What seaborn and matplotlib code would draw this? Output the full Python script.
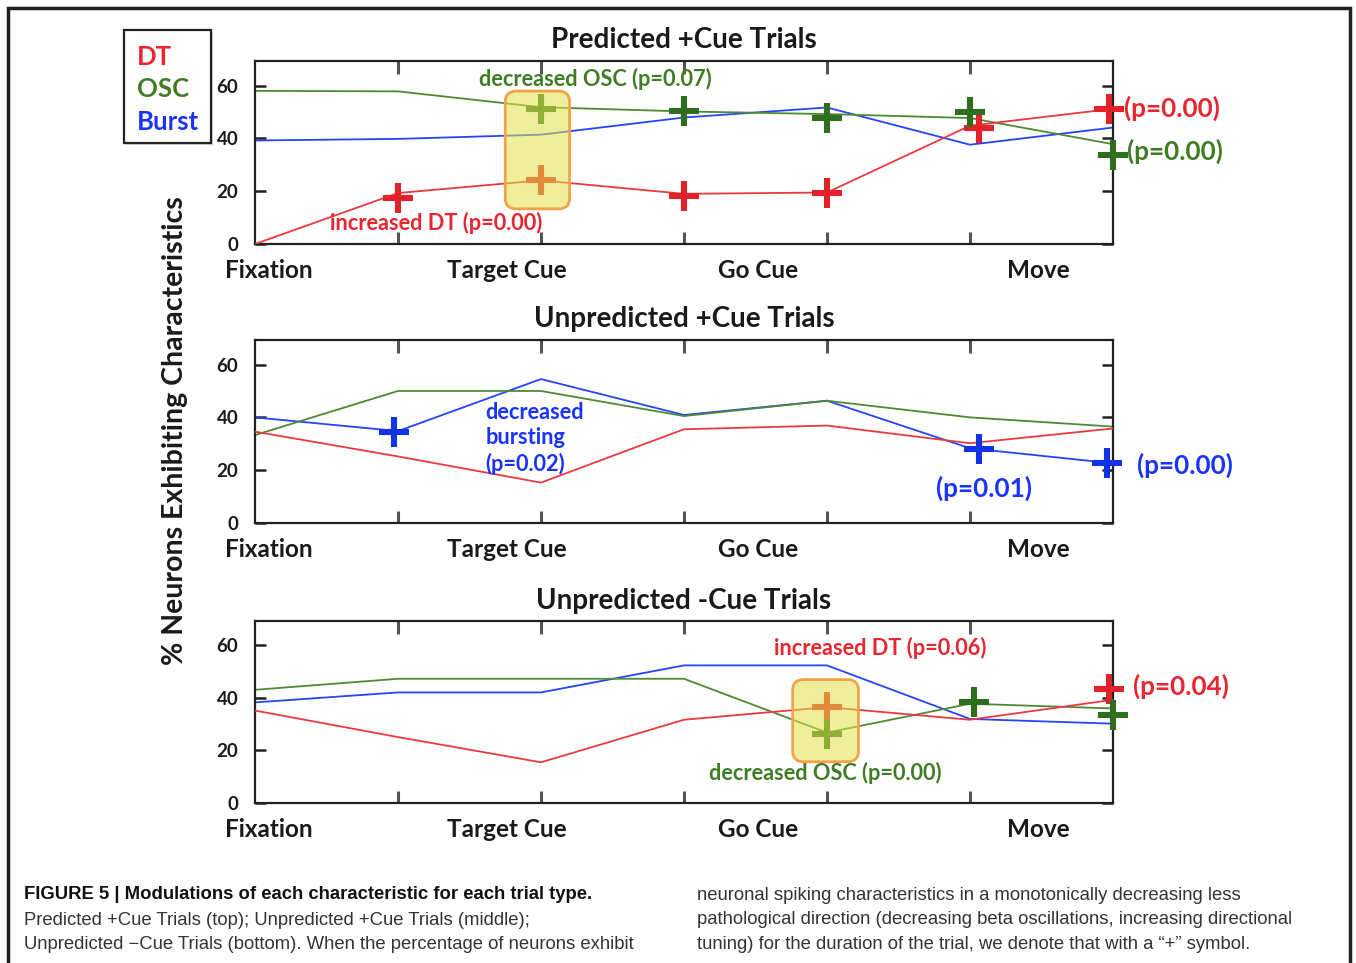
import numpy as np
import pandas as pd
import matplotlib
matplotlib.use("Agg")
import matplotlib.pyplot as plt
from matplotlib.patches import Rectangle, FancyBboxPatch
import seaborn as sns

# ---------------- data ----------------
positions = [0, 1, 2, 3, 4, 5, 6]
phase_labels = ["Fixation", "Target Cue", "Go Cue", "Move"]
phase_label_pos = [0.1, 1.76, 3.52, 5.48]
series_names = ["DT", "OSC", "Burst"]
panel_titles = ["Predicted +Cue Trials", "Unpredicted +Cue Trials", "Unpredicted -Cue Trials"]

# Predicted +Cue
pred_dt = [0.0, 19.3, 24.1, 19.0, 19.5, 44.8, 51.2]
pred_osc = [58.0, 57.8, 51.8, 50.2, 49.2, 47.7, 37.8]
pred_burst = [39.2, 39.8, 41.4, 47.9, 51.7, 37.6, 44.1]
# Unpredicted +Cue
unp_dt = [34.6, 25.2, 15.3, 35.5, 36.9, 30.2, 35.8]
unp_osc = [33.3, 50.0, 50.0, 40.5, 46.3, 40.0, 36.5]
unp_burst = [40.0, 34.8, 54.5, 40.9, 46.3, 28.3, 22.6]
# Unpredicted -Cue
unm_dt = [35.2, 25.1, 15.5, 31.7, 36.5, 31.7, 39.3]
unm_osc = [43.1, 47.3, 47.3, 47.3, 26.8, 37.8, 36.0]
unm_burst = [38.3, 42.1, 42.1, 52.4, 52.4, 32.0, 30.2]

# "+" significance markers (x position, value)
pred_dt_mk_x = [1, 2, 3, 4, 5.06, 5.97]
pred_dt_mk_y = [17.4, 24.3, 18.3, 19.5, 43.9, 51.1]
pred_osc_mk_x = [2, 3, 4, 5.0, 6]
pred_osc_mk_y = [51.0, 50.2, 47.7, 49.8, 33.8]
unp_burst_mk_x = [0.97, 5.06, 5.96]
unp_burst_mk_y = [34.6, 27.9, 22.6]
unm_dt_mk_x = [4, 5.97]
unm_dt_mk_y = [36.5, 43.4]
unm_osc_mk_x = [4, 5.03, 6]
unm_osc_mk_y = [26.4, 38.5, 33.6]

# ---------------- style ----------------
sns.set_theme(style="white")
plt.rcParams["font.family"] = ["Lato", "DejaVu Sans"]

line_colors = {"DT": "#ea3a3f", "OSC": "#4f8a33", "Burst": "#2444ff"}
mk_colors = {"DT": "#e2222a", "OSC": "#2f6e1e", "Burst": "#1232e6"}
txt_colors = {"DT": "#e8262f", "OSC": "#3f7d24", "Burst": "#1a33ff"}

W, H = 1356, 963
fig = plt.figure(figsize=(W / 100, H / 100), dpi=100)

def fx(px):
    return px / W

def fy(py):
    return 1 - py / H

axes_px = [(61, 244), (340, 523), (621, 803)]
ax_left, ax_right = 255, 1113

panels = [
    (pred_dt, pred_osc, pred_burst),
    (unp_dt, unp_osc, unp_burst),
    (unm_dt, unm_osc, unm_burst),
]

axs = []
for i, (top, bot) in enumerate(axes_px):
    ax = fig.add_axes([fx(ax_left), fy(bot), fx(ax_right - ax_left), (bot - top) / H])
    axs.append(ax)
    dt, osc, burst = panels[i]
    df = pd.DataFrame({
        "pos": positions * 3,
        "value": dt + osc + burst,
        "series": ["DT"] * 7 + ["OSC"] * 7 + ["Burst"] * 7,
    })
    sns.lineplot(data=df[df.series == "DT"], x="pos", y="value", color=line_colors["DT"],
                 linewidth=1.3, ax=ax, legend=False, zorder=3)
    sns.lineplot(data=df[df.series == "Burst"], x="pos", y="value", color=line_colors["Burst"],
                 linewidth=1.3, ax=ax, legend=False, zorder=2)
    sns.lineplot(data=df[df.series == "OSC"], x="pos", y="value", color=line_colors["OSC"],
                 linewidth=1.3, ax=ax, legend=False, zorder=2.5)
    ax.set_xlim(0, 6)
    ax.set_ylim(0, 69.3)
    ax.set_xlabel("")
    ax.set_ylabel("")
    ax.set_xticks([1, 2, 3, 4, 5])
    ax.set_xticklabels([])
    ax.set_xticks(phase_label_pos, minor=True)
    ax.set_xticklabels(phase_labels, minor=True, fontsize=17.5, fontweight="bold", color="#1a1a1a")
    ax.tick_params(axis="x", which="major", direction="in", length=9, width=2.2,
                   color="#555555", top=True, bottom=True)
    ax.tick_params(axis="x", which="minor", length=0, pad=11)
    ax.set_yticks([0, 20, 40, 60])
    ax.set_yticklabels(["0", "20", "40", "60"], fontsize=13.5, fontweight="bold", color="#1a1a1a")
    ax.tick_params(axis="y", direction="in", length=8, width=1.8, color="#222222",
                   left=True, right=True, pad=12)
    for s in ax.spines.values():
        s.set_color("#222222")
        s.set_linewidth(1.6)
        s.set_visible(True)
    ax.set_title(panel_titles[i], fontsize=20, fontweight="bold", color="#1a1a1a", pad=9)

def plus(ax, xs, ys, key):
    ax.plot(xs, ys, ls="none", marker="+", ms=22, mew=4.4, color=mk_colors[key],
            zorder=5, clip_on=False)

def hbox(ax, x0, x1, y0, y1):
    r = 0.075
    box = FancyBboxPatch((x0, y0), x1 - x0, y1 - y0,
                         boxstyle=f"round,pad=0,rounding_size={r}",
                         mutation_aspect=53.6,
                         facecolor="#e3e34a", alpha=0.55, edgecolor="none", zorder=6)
    ax.add_patch(box)
    edge = FancyBboxPatch((x0, y0), x1 - x0, y1 - y0,
                          boxstyle=f"round,pad=0,rounding_size={r}",
                          mutation_aspect=53.6,
                          facecolor="none", edgecolor="#f2a24a", linewidth=2.0, zorder=7)
    ax.add_patch(edge)

ann_fs = 15.7
p_fs = 18.8

# ---- top panel ----
ax = axs[0]
plus(ax, pred_dt_mk_x, pred_dt_mk_y, "DT")
plus(ax, pred_osc_mk_x, pred_osc_mk_y, "OSC")
hbox(ax, 1.75, 2.20, 13.3, 57.9)
ax.text(2.38, 62.4, "decreased OSC (p=0.07)", color=txt_colors["OSC"], fontsize=ann_fs,
        fontweight="bold", ha="center", va="center", zorder=8)
ax.text(1.27, 8.1, "increased DT (p=0.00)", color=txt_colors["DT"], fontsize=ann_fs,
        fontweight="bold", ha="center", va="center", zorder=8)
ax.text(6.08, 51.2, "(p=0.00)", color=txt_colors["DT"], fontsize=p_fs, fontweight="bold",
        ha="left", va="center", clip_on=False)
ax.text(6.10, 35.1, "(p=0.00)", color=txt_colors["OSC"], fontsize=p_fs, fontweight="bold",
        ha="left", va="center", clip_on=False)

# ---- middle panel ----
ax = axs[1]
plus(ax, unp_burst_mk_x, unp_burst_mk_y, "Burst")
ax.text(1.61, 32.1, "decreased\nbursting\n(p=0.02)", color=txt_colors["Burst"], fontsize=ann_fs,
        fontweight="bold", ha="left", va="center", linespacing=1.25, zorder=8)
ax.text(5.1, 13.2, "(p=0.01)", color=txt_colors["Burst"], fontsize=p_fs, fontweight="bold",
        ha="center", va="center")
ax.text(6.17, 21.9, "(p=0.00)", color=txt_colors["Burst"], fontsize=p_fs, fontweight="bold",
        ha="left", va="center", clip_on=False)

# ---- bottom panel ----
ax = axs[2]
plus(ax, unm_dt_mk_x, unm_dt_mk_y, "DT")
plus(ax, unm_osc_mk_x, unm_osc_mk_y, "OSC")
hbox(ax, 3.76, 4.22, 15.7, 47.0)
ax.text(4.37, 59.2, "increased DT (p=0.06)", color=txt_colors["DT"], fontsize=ann_fs,
        fontweight="bold", ha="center", va="center")
ax.text(3.99, 11.5, "decreased OSC (p=0.00)", color=txt_colors["OSC"], fontsize=ann_fs,
        fontweight="bold", ha="center", va="center", zorder=8)
ax.text(6.14, 44.3, "(p=0.04)", color=txt_colors["DT"], fontsize=p_fs, fontweight="bold",
        ha="left", va="center", clip_on=False)

# ---- legend box ----
fig.patches.append(Rectangle((fx(126), fy(145)), fx(87), 113 / H, transform=fig.transFigure,
                             facecolor="#888888", edgecolor="none", alpha=0.35, zorder=0))
fig.patches.append(Rectangle((fx(124), fy(143)), fx(87), 113 / H, transform=fig.transFigure,
                             facecolor="white", edgecolor="#222222", linewidth=1.6, zorder=1))
for name, ypx in zip(series_names, [57, 89, 122]):
    fig.text(fx(137), fy(ypx), name, color=txt_colors[name], fontsize=18.5, fontweight="bold",
             ha="left", va="center")

# ---- y label ----
fig.text(fx(175), fy(431), "% Neurons Exhibiting Characteristics", rotation=90,
         fontsize=20.5, fontweight="bold", color="#1a1a1a", ha="center", va="center")

# ---- caption ----
cap_font = ["Liberation Sans Narrow", "Liberation Sans", "DejaVu Sans"]
cap_fs = 13.3
fig.text(fx(24), fy(894), "FIGURE 5 | Modulations of each characteristic for each trial type.",
         fontsize=cap_fs, fontweight="bold", family=cap_font, color="#111111", va="center")
col1 = ["Predicted +Cue Trials (top); Unpredicted +Cue Trials (middle);",
        "Unpredicted \u2212Cue Trials (bottom). When the percentage of neurons exhibit"]
col2 = ["neuronal spiking characteristics in a monotonically decreasing less",
        "pathological direction (decreasing beta oscillations, increasing directional",
        "tuning) for the duration of the trial, we denote that with a \u201c+\u201d symbol."]
for j, t in enumerate(col1):
    fig.text(fx(24), fy(920 + 24 * j), t, fontsize=cap_fs, family=cap_font, color="#333333",
             va="center")
for j, t in enumerate(col2):
    fig.text(fx(697), fy(895 + 24.5 * j), t, fontsize=cap_fs, family=cap_font, color="#333333",
             va="center")

# ---- outer frame ----
fig.patches.append(Rectangle((fx(8), -0.02), fx(1350 - 8), (H - 8) / H + 0.02,
                             transform=fig.transFigure, fill=False, edgecolor="#231f20",
                             linewidth=2.5))

fig.savefig("out.png", dpi=100)
